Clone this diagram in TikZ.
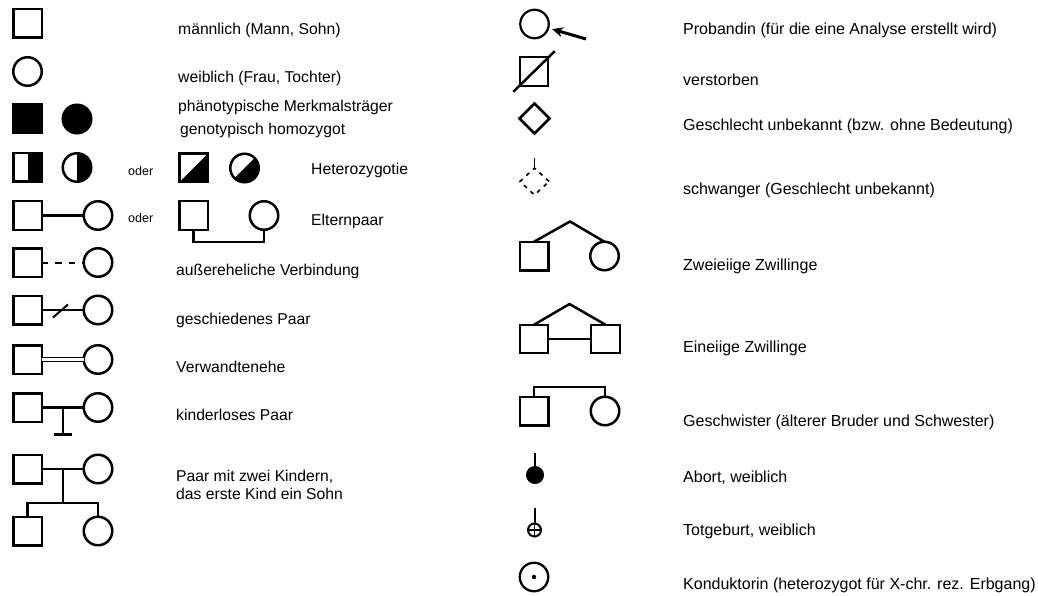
\documentclass[tikz,border=0pt]{standalone}
\usepackage{fontspec}
\setmainfont{Liberation Sans}
\usetikzlibrary{shapes.geometric,arrows.meta,calc}
\newcommand\lblsize{\fontsize{15.7}{18}\selectfont}
\newcommand\rlblsize{\fontsize{16}{18}\selectfont}
\newcommand\odersize{\fontsize{12.5}{15}\selectfont}

\begin{document}
\begin{tikzpicture}[x=1pt,y=-1pt,
  sym/.style={draw, line width=2.5pt, inner sep=0pt, outer sep=0pt},
  male/.style={sym, rectangle, minimum size=28.5pt},
  female/.style={sym, circle, minimum size=28.5pt},
  unknown/.style={sym, diamond, aspect=1, minimum size=30pt},
  conn/.style={line width=2.5pt},
  thinconn/.style={line width=1.6pt},
  lbl/.style={anchor=west, inner sep=0pt, font=\lblsize},
  rlbl/.style={anchor=west, inner sep=0pt, font=\rlblsize},
  oder/.style={anchor=west, inner sep=0pt, font=\odersize},
]
\useasboundingbox[fill=white] (0,0) rectangle (1038,596);

% ---------------- left column ----------------
\node[male] (m1) at (27.5,23.5) {};
\node[lbl] at (178,30) {männlich (Mann, Sohn)};

\node[female] (f1) at (27.5,71.5) {};
\node[lbl] at (178,78) {weiblich (Frau, Tochter)};

\node[male, fill] (m2) at (27.5,119) {};
\node[female, fill] (f2) at (77,119) {};
\node[lbl] at (178,107) {phänotypische Merkmalsträger};
\node[lbl] at (180,130) {genotypisch homozygot};

% heterozygous, half filled
\node[male] (m3) at (27.5,167.5) {};
\fill (m3.north) rectangle (m3.south east);
\node[female] (f3) at (77,167.5) {};
\begin{scope}
  \clip (f3.north) rectangle ++(20,32);
  \fill (f3.center) circle (14.25);
\end{scope}
\node[oder] at (128,171) {oder};
% heterozygous, diagonally filled
\node[male] (m4) at (193.5,168) {};
\fill (m4.south west) -- (m4.south east) -- (m4.north east) -- cycle;
\node[female] (f4) at (244.5,168) {};
\begin{scope}
  \clip ($(f4.center)+(-20,20)$) -- ($(f4.center)+(20,20)$) -- ($(f4.center)+(20,-20)$) -- cycle;
  \fill (f4.center) circle (14.25);
\end{scope}
\node[lbl] at (311,170) {Heterozygotie};

% parents
\node[male] (pm) at (27.5,215.5) {};
\node[female] (pf) at (98,215.5) {};
\draw[conn] (pm) -- (pf);
\node[oder] at (128,218) {oder};
\node[male] (qm) at (193.5,215.5) {};
\node[female] (qf) at (264,215.5) {};
\coordinate (qb) at (228,242);
\draw[conn] (qm.south) |- (qb) -| (qf.south);
\node[lbl] at (311,221) {Elternpaar};

% extramarital
\node[male] (em) at (27.5,262.5) {};
\node[female] (ef) at (98,262.5) {};
\draw[line width=2pt, dash pattern=on 6.5pt off 7pt] (em) -- (ef);
\node[lbl] at (176,271) {außereheliche Verbindung};

% divorced
\node[male] (dm) at (27.5,310) {};
\node[female] (df) at (98,310) {};
\draw[thinconn] (dm) -- (df);
\coordinate (dc) at (60.5,311);
\draw[line width=2pt] ($(dc)+(-7.5,6.5)$) -- ($(dc)+(7.5,-6.5)$);
\node[lbl] at (176,320) {geschiedenes Paar};

% consanguineous
\node[male] (vm) at (27.5,359.5) {};
\node[female] (vf) at (98,359.5) {};
\draw[double, line width=1.6pt, double distance=2.6pt] (vm) -- (vf);
\node[lbl] at (176,367) {Verwandtenehe};

% childless
\node[male] (km) at (27.5,407.5) {};
\node[female] (kf) at (98,407.5) {};
\draw[conn] (km) -- (kf);
\coordinate (kc) at ($(km.east)!0.5!(kf.west)$);
\coordinate (kb) at ($(kc)+(0,27)$);
\draw[conn] (kc) -- (kb);
\draw[conn] ($(kb)+(-9,0)$) -- ($(kb)+(9,0)$);
\node[lbl] at (176,415) {kinderloses Paar};

% couple with two children
\node[male] (cm) at (27.5,469) {};
\node[female] (cf) at (98,469) {};
\draw[conn] (cm) -- (cf);
\coordinate (cc) at ($(cm.east)!0.5!(cf.west)$);
\coordinate (cb) at ($(cc)+(0,34)$);
\node[male] (s1) at (27.5,531) {};
\node[female] (s2) at (98,531) {};
\draw[conn] (cc) -- (cb);
\draw[conn] (s1.north) |- (cb) -| (s2.north);
\node[lbl, align=left] at (176,485) {Paar mit zwei Kindern,\\das erste Kind ein Sohn};

% ---------------- right column ----------------
% proband
\node[female, line width=2.2pt] (pro) at (534.5,24) {};
\coordinate (pa) at (586,39);
\draw[line width=3pt, -{Stealth[length=11pt,width=10pt]}, shorten >=4pt] (pa) -- (pro);
\node[rlbl] at (683,30) {Probandin (für die eine Analyse erstellt wird)};

% deceased
\node[male, line width=2.2pt] (dec) at (534,71.5) {};
\draw[line width=2.5pt] ([shift={(-6.5,6)}]dec.south west) -- ([shift={(6.5,-6)}]dec.north east);
\node[rlbl] at (683,80) {verstorben};

% sex unknown
\node[unknown] (unk) at (534.5,118.5) {};
\node[rlbl] at (683,126) {Geschlecht unbekannt (bzw. ohne Bedeutung)};

% pregnancy
\node[sym, diamond, line width=1.6pt, minimum width=29pt, minimum height=27pt,
      dash pattern=on 4pt off 5pt] (preg) at (534.5,181.5) {};
\coordinate (pt) at ($(preg.north)+(0,-10)$);
\draw[line width=1.6pt] (pt) -- (preg.north);
\node[rlbl] at (683,190) {schwanger (Geschlecht unbekannt)};

% dizygotic twins
\node[male] (zm) at (534,256) {};
\node[female] (zf) at (604.5,256) {};
\coordinate (za) at (570,221.5);
\draw[conn, line join=round] (zm.north) -- (za) -- (zf.north);
\node[rlbl] at (683,266) {Zweieiige Zwillinge};

% monozygotic twins
\node[male, line width=2pt] (ea) at (534,339) {};
\node[male, line width=2pt] (eb) at (605.5,339) {};
\coordinate (ez) at (569.5,304);
\draw[conn, line join=round] (ea.north) -- (ez) -- (eb.north);
\draw[line width=1.2pt] (ea) -- (eb);
\node[rlbl] at (683,348) {Eineiige Zwillinge};

% siblings
\node[male] (ga) at (534,411) {};
\node[female] (gb) at (605,411) {};
\coordinate (gz) at (570,387);
\draw[conn] (ga.north) |- (gz) -| (gb.north);
\node[rlbl] at (683,422) {Geschwister (älterer Bruder und Schwester)};

% abortion
\node[sym, circle, fill, line width=1pt, minimum size=17pt] (ab) at (535,475) {};
\coordinate (abt) at (535,453);
\draw[line width=2.2pt] (abt) -- (ab.north);
\node[rlbl] at (683,478) {Abort, weiblich};

% stillbirth
\node[sym, circle, line width=2pt, minimum size=13pt] (tg) at (534.5,530) {};
\coordinate (tgt) at (534.5,508);
\draw[line width=2pt] (tgt) -- (tg.north);
\draw[line width=1.6pt] (tg.north) -- (tg.south) (tg.west) -- (tg.east);
\node[rlbl] at (683,531) {Totgeburt, weiblich};

% carrier
\node[female, line width=2.3pt] (kd) at (534,577) {};
\fill (kd.center) circle (2.2);
\node[rlbl] at (683,585) {Konduktorin (heterozygot für X-chr. rez. Erbgang)};
\end{tikzpicture}
\end{document}
